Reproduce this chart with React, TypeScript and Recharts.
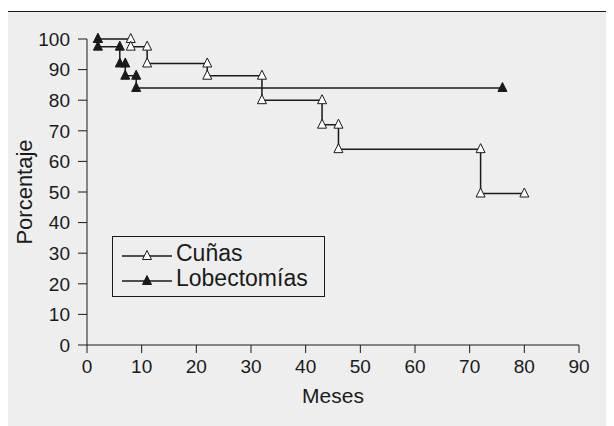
import React from 'react';
import { LineChart, Line, XAxis, YAxis } from 'recharts';

const cunasMonths = [2, 8, 8, 11, 11, 22, 22, 32, 32, 43, 43, 46, 46, 72, 72, 80];
const cunasPct = [100, 100, 97.5, 97.5, 92, 92, 88, 88, 80, 80, 72, 72, 64, 64, 49.5, 49.5];

const lobMonths = [2, 2, 6, 6, 7, 7, 9, 9, 76];
const lobPct = [100, 97.5, 97.5, 92, 92, 88, 88, 84, 84];

const xTicks = [0, 10, 20, 30, 40, 50, 60, 70, 80, 90];
const yTicks = [0, 10, 20, 30, 40, 50, 60, 70, 80, 90, 100];

const seriesNames = ['Cuñas', 'Lobectomías'];

const cunasData = cunasMonths.map((m, i) => ({ mes: m, pct: cunasPct[i] }));
const lobData = lobMonths.map((m, i) => ({ mes: m, pct: lobPct[i] }));

const FONT = '"Liberation Sans", Arial, sans-serif';
const INK = '#1a1a1a';
const BG = '#eeeeee';

const tri = (cx: number, cy: number, fill: string, key?: string | number) => (
  <polygon
    key={key}
    points={`${cx},${cy - 5.5} ${cx + 4.5},${cy + 3.5} ${cx - 4.5},${cy + 3.5}`}
    fill={fill}
    stroke={INK}
    strokeWidth={1}
  />
);

const OpenDot = (props: any) => tri(props.cx, props.cy, '#fff', props.index);
const FilledDot = (props: any) => tri(props.cx, props.cy, INK, props.index);

const LegendBox = () => (
  <div
    style={{
      position: 'absolute',
      left: 112,
      top: 236,
      border: `1px solid ${INK}`,
      width: 213,
      height: 61,
      boxSizing: 'border-box',
      fontFamily: FONT,
      fontSize: 23,
      color: INK,
      padding: '4px 0 0 8px',
    }}
  >
    {seriesNames.map((name, i) => (
      <div key={name} style={{ display: 'flex', alignItems: 'center', height: 25 }}>
        <svg width={52} height={14} style={{ marginRight: 3 }}>
          <line x1={1} y1={9} x2={51} y2={9} stroke={INK} strokeWidth={1.5} />
          {tri(26, 9, i === 0 ? '#fff' : INK)}
        </svg>
        <span>{name}</span>
      </div>
    ))}
  </div>
);

export default function App() {
  return (
    <div style={{ position: 'relative', width: 614, height: 426, margin: '-8px 0 0 -8px', background: '#fff', overflow: 'hidden' }}>
      <div
        style={{
          position: 'absolute',
          left: 7,
          top: 11,
          width: 607,
          height: 415,
          background: BG,
          borderLeft: `1px solid ${INK}`,
          borderTop: `1px solid ${INK}`,
          boxSizing: 'border-box',
        }}
      />
      <div style={{ position: 'absolute', left: 0, top: 0 }}>
        <LineChart width={614} height={426} margin={{ top: 39, right: 35, bottom: 0, left: 0 }}>
          <XAxis
            type="number"
            dataKey="mes"
            domain={[0, 90]}
            ticks={xTicks}
            interval={0}
            allowDataOverflow
            height={81}
            tickSize={8}
            tickMargin={7}
            stroke={INK}
            tick={{ fill: INK, fontSize: 19, fontFamily: FONT }}
            label={{ value: 'Meses', position: 'insideTop', offset: 43, fill: INK, fontSize: 21, fontFamily: FONT }}
          />
          <YAxis
            type="number"
            dataKey="pct"
            domain={[0, 100]}
            ticks={yTicks}
            interval={0}
            width={87}
            tickSize={9}
            tickMargin={8}
            stroke={INK}
            tick={{ fill: INK, fontSize: 19, fontFamily: FONT }}
            label={{
              value: 'Porcentaje',
              angle: -90,
              position: 'insideLeft',
              offset: 24,
              fill: INK,
              fontSize: 22,
              fontFamily: FONT,
              style: { textAnchor: 'middle' },
            }}
          />
          <Line
            data={cunasData}
            dataKey="pct"
            name={seriesNames[0]}
            type="linear"
            stroke={INK}
            strokeWidth={1.5}
            dot={OpenDot}
            activeDot={false}
            isAnimationActive={false}
          />
          <Line
            data={lobData}
            dataKey="pct"
            name={seriesNames[1]}
            type="linear"
            stroke={INK}
            strokeWidth={1.5}
            dot={FilledDot}
            activeDot={false}
            isAnimationActive={false}
          />
        </LineChart>
      </div>
      <LegendBox />
    </div>
  );
}
